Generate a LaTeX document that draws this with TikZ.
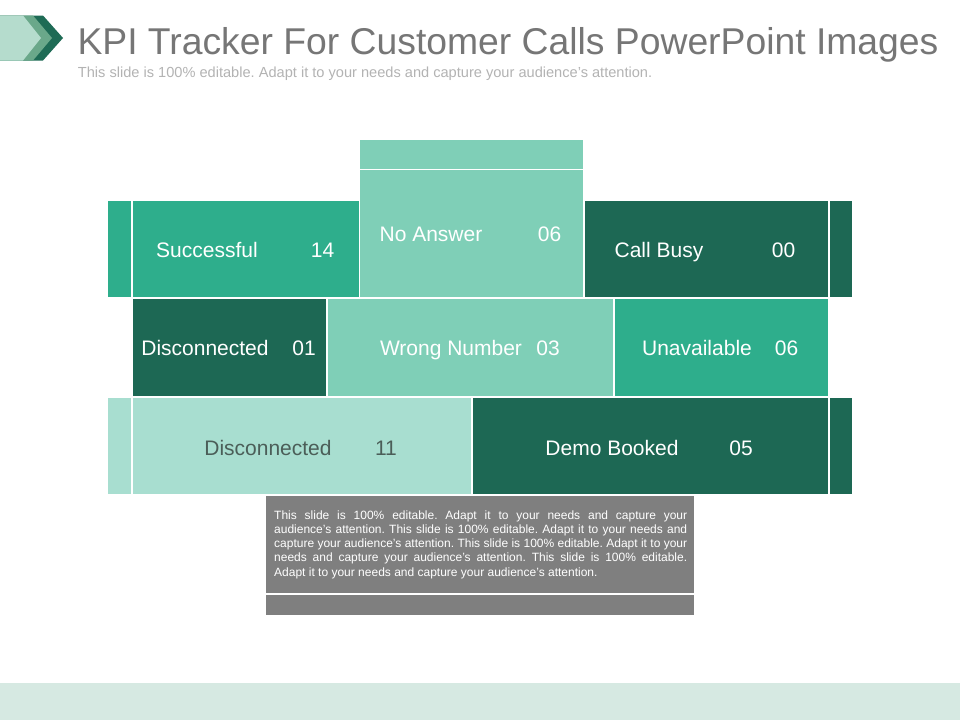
\documentclass[tikz,border=0pt]{standalone}
\usepackage{fontspec}
\setmainfont{Liberation Sans}
\frenchspacing
\definecolor{cPale}{HTML}{A8DED0}
\definecolor{cLt}{HTML}{7FCFB7}
\definecolor{cMed}{HTML}{2EAE8C}
\definecolor{cDk}{HTML}{1D6854}
\definecolor{boxgray}{HTML}{7F7F7F}
\definecolor{band}{HTML}{D6E9E2}
\definecolor{titlegray}{HTML}{767676}
\definecolor{subgray}{HTML}{B3B3B3}
\definecolor{chevL}{HTML}{B5DCCD}
\definecolor{chevM}{HTML}{6AA88A}
\definecolor{chevD}{HTML}{1E6B55}
\definecolor{darktext}{HTML}{4B5E58}
\begin{document}
\begin{tikzpicture}[x=1pt,y=-1pt,
  lbl/.style={font=\fontsize{21}{24}\selectfont, text=white, inner sep=0pt, anchor=base}]
\useasboundingbox (0,0) rectangle (960,720);
\fill[white] (0,0) rectangle (960,720);
% bottom band
\fill[band] (0,683) rectangle (960,720);
% header chevrons
\fill[chevD] (0,15.5) -- (43,15.5) -- (63,38) -- (43,60.5) -- (0,60.5) -- cycle;
\fill[chevM] (0,15.5) -- (33,15.5) -- (52,38) -- (33,60.5) -- (0,60.5) -- cycle;
\fill[chevL] (0,15.5) -- (23,15.5) -- (41,38) -- (23,60.5) -- (0,60.5) -- cycle;
\node[anchor=base west, inner sep=0pt, text=titlegray, font=\fontsize{37.3}{40}\selectfont] (title) at (77.3,54.5) {KPI Tracker For Customer Calls PowerPoint Images};
\node[anchor=base west, inner sep=0pt, text=subgray, font=\fontsize{14.6}{16}\selectfont] (subtitle) at (77.7,77) {This slide is 100\% editable. Adapt it to your needs and capture your audience's attention.};
% row 1
\fill[cMed] (107.5,200.5) rectangle (130.5,296.5);
\fill[cMed] (132.5,200.5) rectangle (358.5,296.5);
\fill[cLt] (360,140) rectangle (582.5,168.5);
\fill[cLt] (360,170) rectangle (582.5,296.5);
\fill[cDk] (584.5,200.5) rectangle (827.5,296.5);
\fill[cDk] (829.5,200.5) rectangle (852,296.5);
% row 2
\fill[cDk] (132.5,298.5) rectangle (326,395.5);
\fill[cLt] (328,298.5) rectangle (612.5,395.5);
\fill[cMed] (614.5,298.5) rectangle (827.5,395.5);
% row 3
\fill[cPale] (107.5,397.5) rectangle (130.5,493.5);
\fill[cPale] (132.5,397.5) rectangle (471,493.5);
\fill[cDk] (472.5,397.5) rectangle (827.5,493.5);
\fill[cDk] (829.5,397.5) rectangle (852,493.5);
% text box
\fill[boxgray] (266,496) rectangle (694,592.5);
\fill[boxgray] (266,594.5) rectangle (694,615);
% labels
\node[lbl] (l1) at (207,257.5) {Successful};
\node[lbl] (n1) at (322.5,257.5) {14};
\node[lbl] (l2) at (431,241.5) {No Answer};
\node[lbl] (n2) at (549.5,241.5) {06};
\node[lbl] (l3) at (659,257.5) {Call Busy};
\node[lbl] (n3) at (783.5,257.5) {00};
\node[lbl] (l4) at (205,355.5) {Disconnected};
\node[lbl] (n4) at (304,355.5) {01};
\node[lbl] (l5) at (451,355.5) {Wrong Number};
\node[lbl] (n5) at (548,355.5) {03};
\node[lbl] (l6) at (697,355.5) {Unavailable};
\node[lbl] (n6) at (786.5,355.5) {06};
\node[lbl, text=darktext] (l7) at (268,455) {Disconnected};
\node[lbl, text=darktext] (n7) at (386,455) {11};
\node[lbl] (l8) at (612,455) {Demo Booked};
\node[lbl] (n8) at (741,455) {05};
\node[anchor=north west, inner sep=0pt, text width=413pt, align=justify, text=white,
  font=\fontsize{12}{14.25}\selectfont] (body) at (274,510.3)
 {\hyphenpenalty=10000 This slide is 100\% editable. Adapt it to your needs and capture your\linebreak
  audience's attention. This slide is 100\% editable. Adapt it to your needs and\linebreak
  capture your audience's attention. This slide is 100\% editable. Adapt it to your\linebreak
  needs and capture your audience's attention. This slide is 100\% editable.\linebreak
  Adapt it to your needs and capture your audience's attention.};
\end{tikzpicture}
\end{document}
